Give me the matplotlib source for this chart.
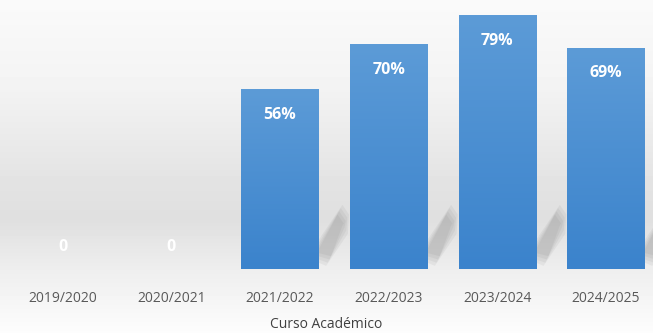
import numpy as np
import matplotlib.pyplot as plt
from matplotlib.colors import LinearSegmentedColormap
from matplotlib.patches import Polygon

cursos = ["2019/2020", "2020/2021", "2021/2022", "2022/2023", "2023/2024", "2024/2025"]
valores = [0, 0, 56, 70, 79, 69]
etiquetas = ["0", "0", "56%", "70%", "79%", "69%"]

plt.rcParams['font.family'] = ['Open Sans', 'DejaVu Sans']

fig = plt.figure(figsize=(6.53, 3.33), dpi=100)

# background gradient (white top, gray band lower, light bottom)
bg = fig.add_axes([0, 0, 1, 1], zorder=0)
yy = np.linspace(0, 1, 333)
stops_y = [0.0, 0.25, 0.55, 0.66, 0.80, 1.0]
stops_v = [0.98, 0.955, 0.89, 0.875, 0.93, 0.99]
col = np.interp(yy, stops_y, stops_v)
img = np.repeat(col[:, None], 10, axis=1)
bg.imshow(img, cmap='gray', vmin=0, vmax=1, aspect='auto', extent=[0, 1, 1, 0])
bg.axis('off')

ax = fig.add_axes([0, 0.192, 1, 0.808], zorder=1)
ax.patch.set_alpha(0)
x = np.arange(len(cursos))
bars = ax.bar(x, valores, width=0.71, color='#4a8fd3', zorder=3)

cmap_bar = LinearSegmentedColormap.from_list('b', ['#5c9bd7', '#3b83cc'])
for b in bars:
    h = b.get_height()
    if h <= 0:
        continue
    x0, w = b.get_x(), b.get_width()
    grad = np.linspace(0, 1, 100)[:, None]
    g = ax.imshow(grad, cmap=cmap_bar, aspect='auto', origin='upper',
                  extent=[x0, x0 + w, 0, h], zorder=3)
    g.set_clip_path(b)
    # soft diagonal shadow in the gap right of the bar
    xr = x0 + w
    for k in range(4):
        s = 0.015 * k
        sh = Polygon([(xr, 2 + k), (xr, 9 - k), (xr + 0.22 - s, 20 - k),
                      (xr + 0.28 - s, 17 - k), (xr + 0.27 - s, 11 + k), (xr + 0.07 + s, 1 + k)],
                     closed=True, facecolor='#5a5a5a', alpha=0.07, edgecolor='none', zorder=2)
        ax.add_patch(sh)

ax.set_xlim(-0.575, 5.432)
ax.set_ylim(0, 83.8)

for xi, v, t in zip(x, valores, etiquetas):
    ypos = v - 8 if v > 0 else 6.8
    ax.text(xi, ypos, t, ha='center', va='center', color='white',
            fontsize=11.5, fontweight='bold', zorder=5)

ax.set_xticks(x)
ax.set_xticklabels(cursos, fontsize=10, color='#595959')
ax.tick_params(axis='x', length=0, pad=16)
ax.set_yticks([])
for s in ax.spines.values():
    s.set_visible(False)
ax.set_xlabel("Curso Académico", fontsize=10, color='#404040', labelpad=8)

fig.savefig("out.png", dpi=100)
